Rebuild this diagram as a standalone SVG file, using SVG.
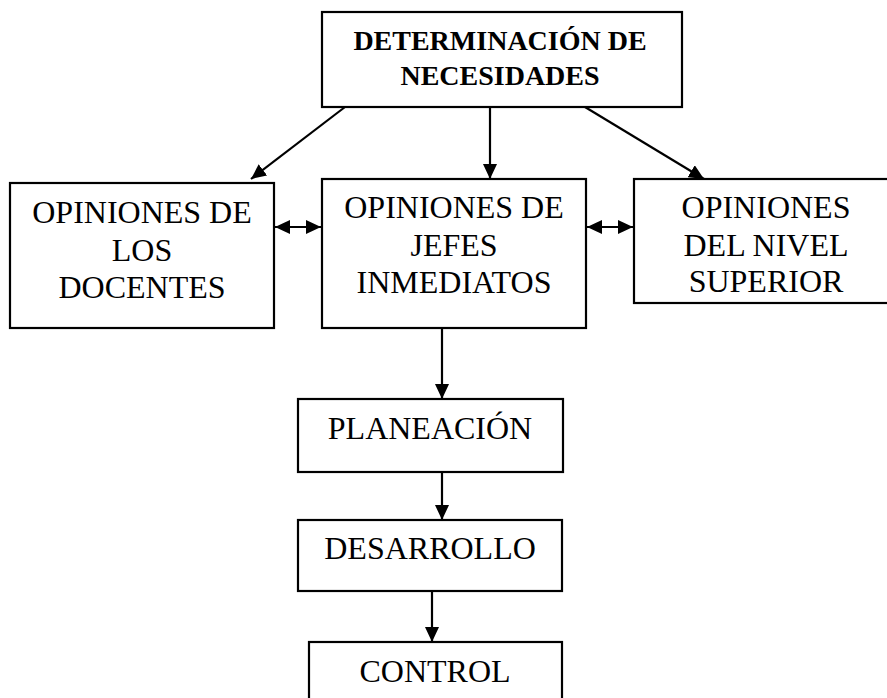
<svg xmlns="http://www.w3.org/2000/svg" width="887" height="698" viewBox="0 0 887 698">
<style>
.box{fill:#fff;stroke:#000;stroke-width:2.2}
.t{font-family:"Liberation Serif","Times New Roman",serif;font-size:32px;fill:#000;text-anchor:middle}
.b{font-family:"Liberation Serif","Times New Roman",serif;font-size:28px;font-weight:bold;fill:#000;text-anchor:middle}
.c{stroke:#000;stroke-width:2.2;fill:none;marker-end:url(#ah)}
.d{stroke:#000;stroke-width:2.2;fill:none;marker-end:url(#ah);marker-start:url(#ah)}
</style>
<defs>
<marker id="ah" markerUnits="userSpaceOnUse" markerWidth="16" markerHeight="14" refX="15" refY="7" orient="auto-start-reverse" viewBox="0 0 16 14">
<path d="M0,0 L15,7 L0,14 z" fill="#000"/>
</marker>
</defs>
<rect width="887" height="698" fill="#fff"/>
<g id="connectors">
<line class="c" x1="345" y1="107" x2="251" y2="179"/>
<line class="c" x1="490" y1="107" x2="490" y2="179"/>
<line class="c" x1="585" y1="107" x2="704" y2="179"/>
<line class="d" x1="275" y1="227" x2="321" y2="227"/>
<line class="d" x1="587" y1="227" x2="633" y2="227"/>
<line class="c" x1="442" y1="328" x2="442" y2="399"/>
<line class="c" x1="442" y1="472" x2="442" y2="520"/>
<line class="c" x1="432" y1="591" x2="432" y2="642"/>
</g>
<g id="n_determinacion">
<rect class="box" x="322" y="12" width="360" height="95"/>
<text class="b" x="500" y="50">DETERMINACIÓN DE</text>
<text class="b" x="500" y="85">NECESIDADES</text>
</g>
<g id="n_docentes">
<rect class="box" x="10" y="183" width="264" height="145"/>
<text class="t" x="142" y="223">OPINIONES DE</text>
<text class="t" x="142" y="261">LOS</text>
<text class="t" x="142" y="298">DOCENTES</text>
</g>
<g id="n_jefes">
<rect class="box" x="322" y="179" width="264" height="149"/>
<text class="t" x="454" y="218">OPINIONES DE</text>
<text class="t" x="454" y="256">JEFES</text>
<text class="t" x="454" y="293">INMEDIATOS</text>
</g>
<g id="n_superior">
<rect class="box" x="634" y="179" width="270" height="124"/>
<text class="t" x="766" y="218">OPINIONES</text>
<text class="t" x="766" y="256">DEL NIVEL</text>
<text class="t" x="766" y="292">SUPERIOR</text>
</g>
<g id="n_planeacion">
<rect class="box" x="298" y="399" width="265" height="73"/>
<text class="t" x="430" y="439">PLANEACIÓN</text>
</g>
<g id="n_desarrollo">
<rect class="box" x="298" y="520" width="264" height="71"/>
<text class="t" x="430" y="559">DESARROLLO</text>
</g>
<g id="n_control">
<rect class="box" x="309" y="642" width="253" height="70"/>
<text class="t" x="435" y="682">CONTROL</text>
</g>
</svg>
